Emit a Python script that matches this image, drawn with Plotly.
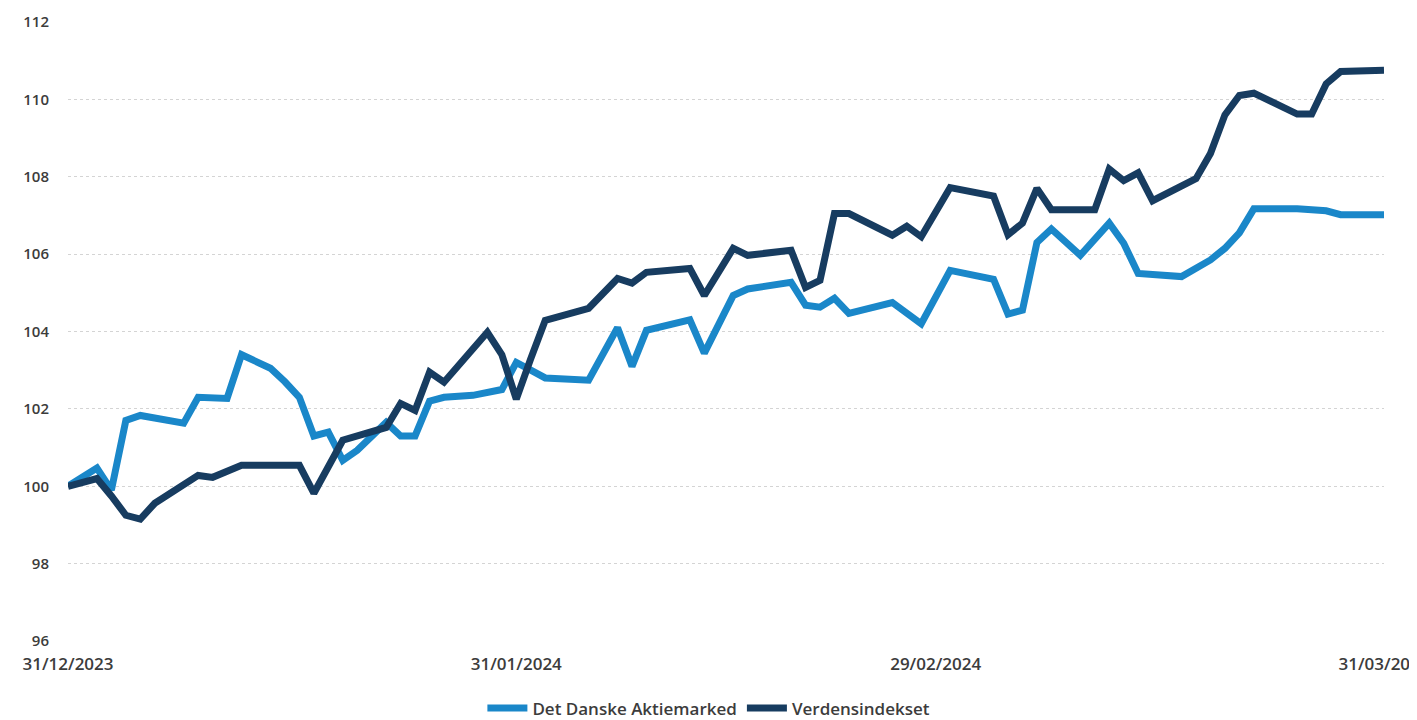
import plotly.graph_objects as go

# --- data ---
dk_dates = ["2023-12-31","2024-01-02","2024-01-03","2024-01-04","2024-01-05","2024-01-08","2024-01-09",
            "2024-01-11","2024-01-12","2024-01-14","2024-01-15","2024-01-16","2024-01-17","2024-01-18",
            "2024-01-19","2024-01-20","2024-01-22","2024-01-23","2024-01-24","2024-01-25","2024-01-26",
            "2024-01-28","2024-01-30","2024-01-31","2024-02-01","2024-02-02","2024-02-05","2024-02-07",
            "2024-02-08","2024-02-09","2024-02-12","2024-02-13","2024-02-15","2024-02-16","2024-02-19",
            "2024-02-20","2024-02-21","2024-02-22","2024-02-23","2024-02-26","2024-02-28","2024-03-01",
            "2024-03-04","2024-03-05","2024-03-06","2024-03-07","2024-03-08","2024-03-10","2024-03-12",
            "2024-03-13","2024-03-14","2024-03-17","2024-03-19","2024-03-20","2024-03-21","2024-03-22",
            "2024-03-25","2024-03-27","2024-03-28","2024-03-31"]
dk_values = [100.0, 100.47, 99.9, 101.7, 101.83, 101.63, 102.3,
             102.27, 103.4, 103.05, 102.7, 102.3, 101.3, 101.4,
             100.67, 100.93, 101.65, 101.3, 101.3, 102.2, 102.3,
             102.35, 102.5, 103.2, 103.0, 102.8, 102.74, 104.1,
             103.1, 104.03, 104.3, 103.44, 104.93, 105.1, 105.27,
             104.68, 104.63, 104.86, 104.47, 104.75, 104.2, 105.58,
             105.35, 104.45, 104.55, 106.3, 106.65, 105.97, 106.8,
             106.28, 105.5, 105.42, 105.85, 106.15, 106.55, 107.17,
             107.17, 107.12, 107.02, 107.02]

world_dates = ["2023-12-31","2024-01-02","2024-01-03","2024-01-04","2024-01-05","2024-01-06","2024-01-09",
               "2024-01-10","2024-01-12","2024-01-16","2024-01-17","2024-01-19","2024-01-22","2024-01-23",
               "2024-01-24","2024-01-25","2024-01-26","2024-01-29","2024-01-30","2024-01-31","2024-02-01",
               "2024-02-02","2024-02-05","2024-02-07","2024-02-08","2024-02-09","2024-02-12","2024-02-13",
               "2024-02-15","2024-02-16","2024-02-19","2024-02-20","2024-02-21","2024-02-22","2024-02-23",
               "2024-02-26","2024-02-27","2024-02-28","2024-03-01","2024-03-04","2024-03-05","2024-03-06",
               "2024-03-07","2024-03-08","2024-03-11","2024-03-12","2024-03-13","2024-03-14","2024-03-15",
               "2024-03-18","2024-03-19","2024-03-20","2024-03-21","2024-03-22","2024-03-25","2024-03-26",
               "2024-03-27","2024-03-28","2024-03-31"]
world_values = [100.0, 100.2, 99.75, 99.25, 99.15, 99.56, 100.28,
                100.23, 100.54, 100.54, 99.82, 101.19, 101.52, 102.14,
                101.96, 102.95, 102.69, 103.98, 103.4, 102.25, 103.3,
                104.29, 104.6, 105.37, 105.25, 105.53, 105.63, 104.93,
                106.15, 105.97, 106.1, 105.14, 105.32, 107.05, 107.05,
                106.49, 106.72, 106.45, 107.72, 107.5, 106.5, 106.8,
                107.7, 107.15, 107.15, 108.2, 107.9, 108.1, 107.38,
                107.95, 108.6, 109.6, 110.1, 110.16, 109.62, 109.62,
                110.4, 110.72, 110.75]

series_names = ["Det Danske Aktiemarked", "Verdensindekset"]
tick_dates = ["2023-12-31", "2024-01-31", "2024-02-29", "2024-03-31"]
tick_labels = ["31/12/2023", "31/01/2024", "29/02/2024", "31/03/2024"]
y_ticks = [96, 98, 100, 102, 104, 106, 108, 110, 112]

FONT = "Open Sans"
TXT = "#3c3c3c"

fig = go.Figure()
fig.add_trace(go.Scatter(x=dk_dates, y=dk_values, mode="lines", name=series_names[0],
                         line=dict(color="#1a87c9", width=7)))
fig.add_trace(go.Scatter(x=world_dates, y=world_values, mode="lines", name=series_names[1],
                         line=dict(color="#173c60", width=7)))

fig.update_layout(
    width=1417, height=720,
    margin=dict(l=60, r=41, t=14, b=87),
    paper_bgcolor="white", plot_bgcolor="white",
    font=dict(family=FONT, size=16, color=TXT),
    showlegend=True,
    legend=dict(orientation="h", x=0.487, xanchor="center", xref="paper",
                y=0.027, yanchor="middle", yref="container",
                font=dict(family=FONT, size=17, color=TXT, weight=600), itemwidth=40,
                traceorder="normal"),
    xaxis=dict(type="date", range=["2023-12-31", "2024-03-31"],
               tickmode="array", tickvals=tick_dates, ticktext=tick_labels,
               showgrid=False, zeroline=False, showline=False, ticks="",
               ticklabelstandoff=11, automargin=False, ticklabeloverflow="allow",
               tickfont=dict(family=FONT, size=17, color=TXT, weight=600)),
    yaxis=dict(range=[96, 112], tickmode="array", tickvals=y_ticks,
               showgrid=True, gridcolor="#d4d4d4", griddash="dot", gridwidth=1,
               zeroline=False, showline=False, ticks="",
               ticklabelstandoff=18, automargin=False,
               tickfont=dict(family=FONT, size=15, color=TXT, weight=600)),
)

fig.write_html("out.html")
